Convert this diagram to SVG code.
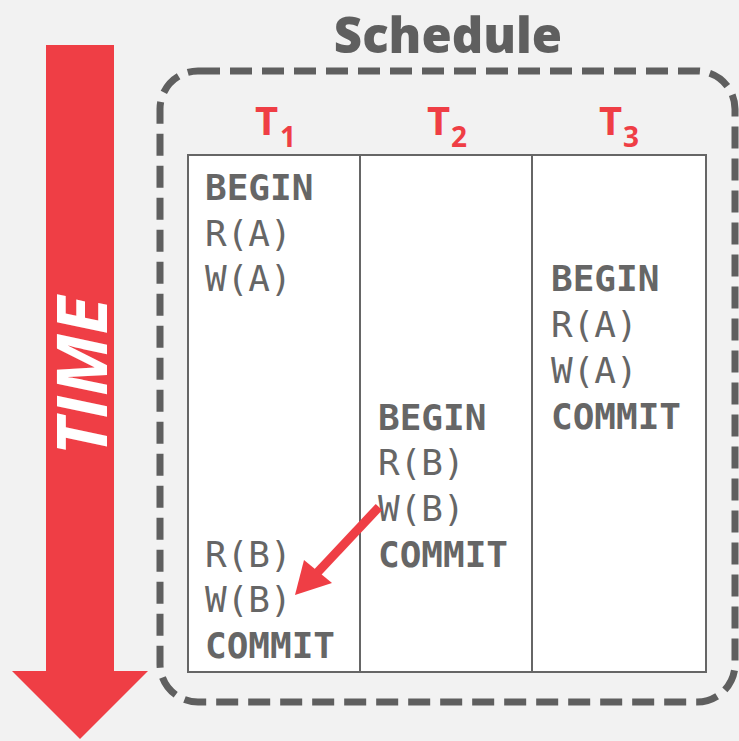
<svg xmlns="http://www.w3.org/2000/svg" width="739" height="741" viewBox="0 0 739 741">
  <style>
    .bg { fill: #f2f2f2; }
    .red { fill: #ef3e45; }
    .title { font-family: "Open Sans", "Liberation Sans", sans-serif; font-weight: 800; fill: #5f5f5f; }
    .txn { font-family: "Open Sans", "Liberation Sans", sans-serif; font-weight: bold; fill: #ef3e45; }
    .op { font-family: "DejaVu Sans Mono", "Liberation Mono", monospace; font-size: 36px; fill: #666666; }
    .kw { font-weight: bold; }
    .frame { fill: none; stroke: #5f5f5f; stroke-width: 7; stroke-dasharray: 22 10; }
    .cell { fill: #ffffff; stroke: #666666; stroke-width: 2; }
    .dep { stroke: #ef3e45; stroke-width: 9; fill: none; }
  </style>

  <rect class="bg" x="0" y="0" width="739" height="741"/>

  <!-- time axis -->
  <g id="time-arrow">
    <polygon class="red" points="46,45 114,45 114,671 148,671 80,739 12,671 46,671"/>
    <text transform="translate(107,376) rotate(-90)" text-anchor="middle" font-family="'Open Sans', 'Liberation Sans', sans-serif" font-weight="bold" font-style="italic" font-size="70" fill="#ffffff">TIME</text>
  </g>

  <!-- schedule frame and title -->
  <g id="schedule">
    <text class="title" x="448" y="53" font-size="49" text-anchor="middle">Schedule</text>
    <rect class="frame" x="160" y="71" width="575" height="631" rx="38" ry="38"/>
  </g>

  <!-- transaction columns -->
  <g id="T1">
    <rect class="cell" x="188" y="155" width="172" height="517"/>
    <text class="txn" x="255" y="135" font-size="40">T<tspan x="280" y="147" font-size="28">1</tspan></text>
    <text class="op kw" x="205" y="200">BEGIN</text>
    <text class="op" x="205" y="246">R(A)</text>
    <text class="op" x="205" y="291">W(A)</text>
    <text class="op" x="205" y="567">R(B)</text>
    <text class="op" x="205" y="612">W(B)</text>
    <text class="op kw" x="205" y="658">COMMIT</text>
  </g>

  <g id="T2">
    <rect class="cell" x="360" y="155" width="172" height="517"/>
    <text class="txn" x="427" y="135" font-size="40">T<tspan x="451" y="147" font-size="28">2</tspan></text>
    <text class="op kw" x="378" y="430">BEGIN</text>
    <text class="op" x="378" y="475">R(B)</text>
    <text class="op" x="378" y="521">W(B)</text>
    <text class="op kw" x="378" y="567">COMMIT</text>
  </g>

  <g id="T3">
    <rect class="cell" x="532" y="155" width="174" height="517"/>
    <text class="txn" x="599" y="135" font-size="40">T<tspan x="623" y="147" font-size="28">3</tspan></text>
    <text class="op kw" x="551" y="291">BEGIN</text>
    <text class="op" x="551" y="337">R(A)</text>
    <text class="op" x="551" y="383">W(A)</text>
    <text class="op kw" x="551" y="429">COMMIT</text>
  </g>

  <!-- dependency: T2 W(B) feeds T1 W(B) -->
  <g id="connectors">
    <line class="dep" x1="379" y1="507" x2="316" y2="574"/>
    <polygon class="red" points="295,595 304,560 332,583"/>
  </g>
</svg>
